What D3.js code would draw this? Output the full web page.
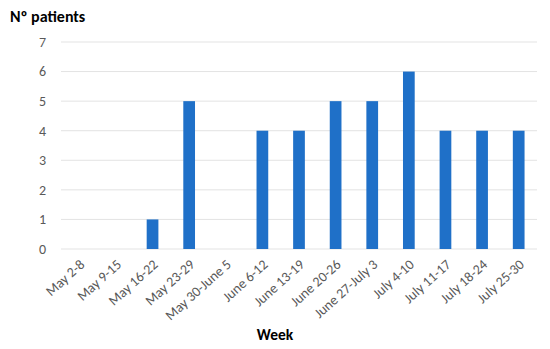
<!DOCTYPE html>
<html>
  <head>
    <meta charset="utf-8">
    <title>Patients per week</title>
    <script src="https://d3js.org/d3.v7.min.js"></script>
    <style>
      body { margin: 0; background: #fff; }
      text { font-family: Carlito, Lato, "Open Sans", sans-serif; }
    </style>
  </head>
  <body>
    <div id="chart"></div>
    <script>
      // data
      const weeks = ["May 2-8", "May 9-15", "May 16-22", "May 23-29", "May 30-June 5", "June 6-12",
        "June 13-19", "June 20-26", "June 27-July 3", "July 4-10", "July 11-17", "July 18-24", "July 25-30"];
      const patients = [0, 0, 1, 5, 0, 4, 4, 5, 5, 6, 4, 4, 4];
      const yTicks = [0, 1, 2, 3, 4, 5, 6, 7];

      const width = 550, height = 349;
      const margin = { top: 42, right: 13, bottom: 100, left: 61 };

      const svg = d3.select("#chart")
        .append("svg")
        .attr("width", width)
        .attr("height", height);

      const x = d3.scaleBand()
        .domain(weeks)
        .range([margin.left, width - margin.right])
        .paddingInner(0.68)
        .paddingOuter(0.34);
      const y = d3.scaleLinear()
        .domain([0, 7])
        .range([height - margin.bottom, margin.top]);

      // gridlines
      svg.append("g")
        .selectAll("line")
          .data(yTicks)
        .enter().append("line")
          .attr("x1", margin.left)
          .attr("x2", width - margin.right)
          .attr("y1", d => y(d))
          .attr("y2", d => y(d))
          .attr("stroke", "#e3e3e3")
          .attr("stroke-width", 1);

      // y labels
      svg.append("g")
        .selectAll("text")
          .data(yTicks)
        .enter().append("text")
          .attr("x", 46)
          .attr("y", d => y(d))
          .attr("dy", "0.35em")
          .attr("text-anchor", "end")
          .attr("fill", "#595959")
          .style("font-size", "14px")
          .text(d => d);

      // bars
      svg.append("g")
        .selectAll("rect")
          .data(weeks)
        .enter().append("rect")
          .attr("x", d => x(d))
          .attr("width", x.bandwidth())
          .attr("y", (d, i) => y(patients[i]))
          .attr("height", (d, i) => y(0) - y(patients[i]))
          .attr("fill", "#1f70c8");

      // x labels, rotated
      svg.append("g")
        .selectAll("text")
          .data(weeks)
        .enter().append("text")
          .attr("transform", d => "translate(" + (x(d) + x.bandwidth() / 2 + 3) + "," + (y(0) + 13) + ") rotate(-42)")
          .attr("text-anchor", "end")
          .attr("dy", "0.35em")
          .attr("fill", "#595959")
          .style("font-size", "14px")
          .text(d => d);

      // titles
      svg.append("text")
        .attr("x", 10)
        .attr("y", 22)
        .style("font-size", "16px")
        .style("font-weight", "bold")
        .attr("fill", "#000")
        .text("Nº patients");
      svg.append("text")
        .attr("x", 275)
        .attr("y", 340)
        .attr("text-anchor", "middle")
        .style("font-size", "15.5px")
        .style("font-weight", "bold")
        .attr("fill", "#000")
        .text("Week");
    </script>
  </body>
</html>
